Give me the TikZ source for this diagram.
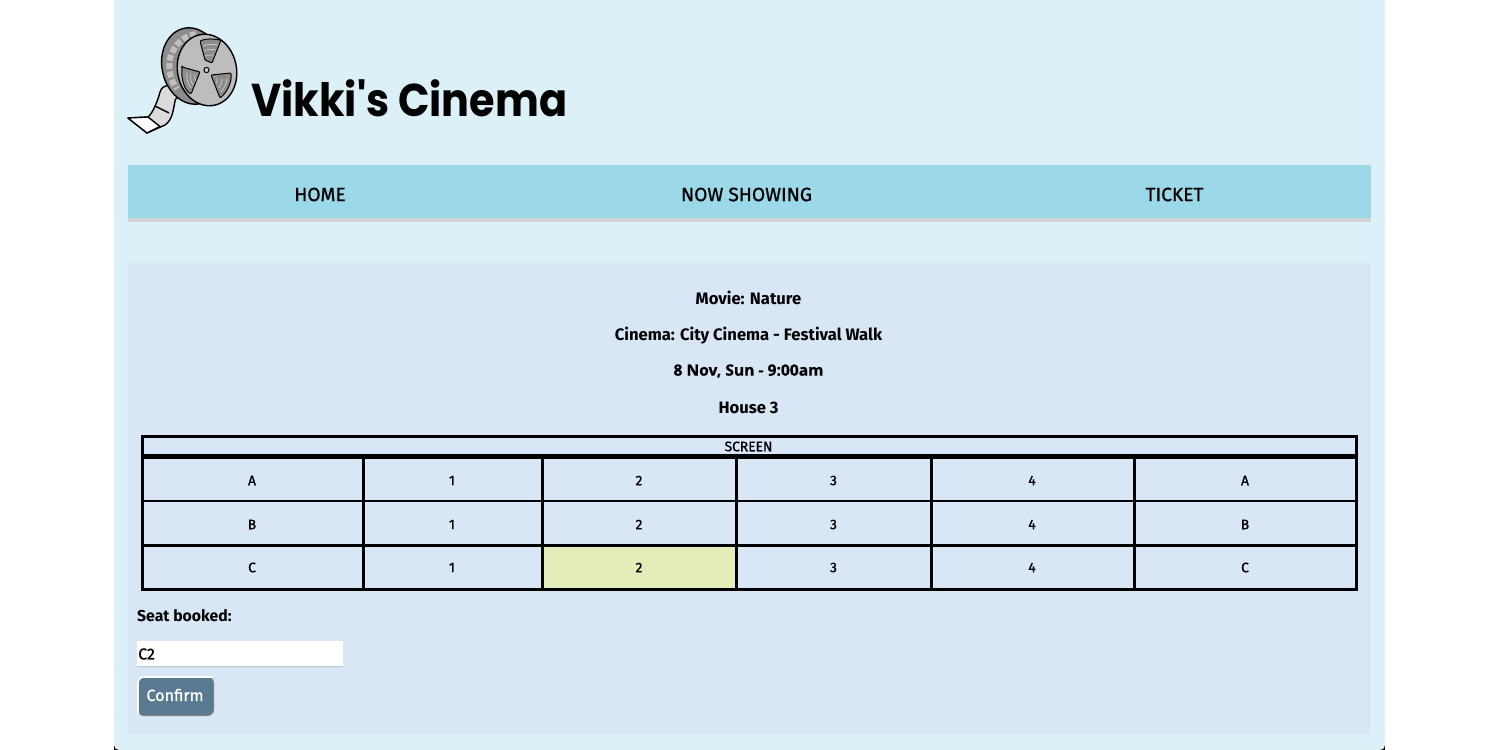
\documentclass[tikz,border=0pt]{standalone}
\usepackage{fontspec}
\setmainfont{Fira Sans}
\newfontfamily\titlefont[FakeStretch=.9]{Poppins}
\newfontfamily\datefont[FakeBold=.5]{Open Sans}
\newfontfamily\seatfont[FakeBold=1]{Fira Sans}
\definecolor{pagebg}{HTML}{DBF0F7}
\definecolor{navbg}{HTML}{9BD9E8}
\definecolor{navedge}{HTML}{CFD3D6}
\definecolor{panelbg}{HTML}{D8E6F5}
\definecolor{seatbg}{HTML}{E3EDB9}
\definecolor{btnbg}{HTML}{5A7A92}
\definecolor{reelbg}{HTML}{BDBDBD}
\definecolor{holebg}{HTML}{8C8C8C}
\tikzset{
  navlabel/.style={font=\fontsize{19.2}{24}\selectfont\seatfont},
  infolabel/.style={font=\fontsize{16.6}{20}\selectfont\bfseries},
  seatlabel/.style={font=\fontsize{13.8}{17}\selectfont\seatfont},
  gridline/.style={line width=2.6pt,black},
}
\begin{document}
\begin{tikzpicture}[x=1pt,y=-1pt]
\useasboundingbox (0,0) rectangle (1500,750);
\fill[white] (0,0) rectangle (1500,750);
\fill[black] (114,742) rectangle (1385,750);
\fill[pagebg,rounded corners=5pt] (114,-10) rectangle (1385,750);
\fill[navedge] (128,165) rectangle (1371,222);
\fill[navbg] (128,165) rectangle (1371,218);
\fill[panelbg] (128,263) rectangle (1370,734);
\begin{scope}[line width=1.4pt,line join=round]
\draw[fill=reelbg!55!white] (160,92) .. controls (163,82) and (175,85) .. (184,92) -- (182,100) .. controls (178,96) and (176,97) .. (175,101) .. controls (173,112) and (172,120) .. (165,125) -- (147,133) -- (128,118) -- (148,117) .. controls (153,113) and (158,100) .. (160,92) -- cycle;
\fill[white,draw=black] (128,118) -- (148,117) -- (160,126.5) -- (147,133) -- cycle;
\draw (155,106) -- (169,113);
\draw[fill=holebg] (192,66) ellipse [x radius=30,y radius=38.5,rotate=12];
\draw[line width=6pt,dash pattern=on 6pt off 2.5pt,white!75!black] (196,34) .. controls (183,36) and (174,45) .. (170,58) .. controls (168,68) and (170,80) .. (177,89);
\draw[fill=reelbg] (207,70) ellipse [x radius=29.5,y radius=36,rotate=12];
\draw[fill=holebg,rounded corners=1pt,line width=1pt] (200,41) .. controls (207,38) and (213,39) .. (221,40) -- (212,63) -- (205,60) -- cycle;
\draw[fill=holebg,rounded corners=1pt,line width=1pt] (182,67) -- (200,72) -- (191,94) .. controls (184,90) and (181,78) .. (182,67) -- cycle;
\draw[fill=holebg,rounded corners=1pt,line width=1pt] (211,75) -- (231,73) .. controls (232,84) and (226,93) .. (220,98) -- cycle;
\draw[line width=.7pt,white!80!black] (203,46) .. controls (208,44) and (213,44) .. (218,45);
\draw[line width=.7pt,white!80!black] (204,51) .. controls (208,49) and (212,49) .. (216,50);
\draw[line width=.7pt,white!80!black] (205,56) .. controls (208,55) and (211,55) .. (214,55);
\draw[line width=.7pt,white!80!black] (187,72) .. controls (186,78) and (188,84) .. (191,88);
\draw[line width=.7pt,white!80!black] (191,73) .. controls (190,78) and (191,82) .. (193,85);
\draw[line width=.7pt,white!80!black] (195,74) .. controls (194,77) and (195,80) .. (196,81);
\draw[line width=.7pt,white!80!black] (227,78) .. controls (227,83) and (224,88) .. (221,92);
\draw[line width=.7pt,white!80!black] (222,78) .. controls (222,82) and (221,85) .. (219,88);
\draw[line width=.7pt,white!80!black] (217,78) .. controls (217,80) and (217,82) .. (216,84);
\draw[fill=white!80!black,line width=1pt] (206.5,70) circle (2.6);
\end{scope}
\node[anchor=west,inner sep=0pt,font=\fontsize{46}{50}\selectfont\titlefont\bfseries] (sitetitle) at (251,98) {Vikki's Cinema};
\node[navlabel] (navhome) at (320,194.5) {HOME};
\node[navlabel] (navshowing) at (746.5,194.5) {NOW SHOWING};
\node[navlabel] (navticket) at (1174.5,194.5) {TICKET};
\node[infolabel] (movielabel) at (748.5,298) {Movie: Nature};
\node[infolabel] (cinemalabel) at (748.5,336) {Cinema: City Cinema - Festival Walk};
\node[font=\fontsize{15.6}{18}\selectfont\datefont\bfseries] (datelabel) at (748.5,371) {8 Nov, Sun - 9:00am};
\node[infolabel] (houselabel) at (748.5,408) {House 3};
\fill[seatbg] (543,546) rectangle (736,589);
\draw[line width=3pt] (142,436) rectangle (1356,589);
\draw[line width=4.4pt] (141,456.5) -- (1357,456.5);
\draw[gridline] (142,501) -- (1356,501);
\draw[gridline] (142,545.5) -- (1356,545.5);
\draw[gridline] (363.5,457) -- (363.5,589);
\draw[gridline] (542.5,457) -- (542.5,589);
\draw[gridline] (736.5,457) -- (736.5,589);
\draw[gridline] (931.5,457) -- (931.5,589);
\draw[gridline] (1134.5,457) -- (1134.5,589);
\node[seatlabel] (screenlabel) at (748.5,446.5) {SCREEN};
\node[seatlabel] (rowaleft) at (252,480.5) {A};
\node[seatlabel] (seata1) at (452,480.5) {1};
\node[seatlabel] (seata2) at (639,480.5) {2};
\node[seatlabel] (seata3) at (833.5,480.5) {3};
\node[seatlabel] (seata4) at (1032,480.5) {4};
\node[seatlabel] (rowaright) at (1245,480.5) {A};
\node[seatlabel] (rowbleft) at (252,524.5) {B};
\node[seatlabel] (seatb1) at (452,524.5) {1};
\node[seatlabel] (seatb2) at (639,524.5) {2};
\node[seatlabel] (seatb3) at (833.5,524.5) {3};
\node[seatlabel] (seatb4) at (1032,524.5) {4};
\node[seatlabel] (rowbright) at (1245,524.5) {B};
\node[seatlabel] (rowcleft) at (252,567.5) {C};
\node[seatlabel] (seatc1) at (452,567.5) {1};
\node[seatlabel] (seatc2) at (639,567.5) {2};
\node[seatlabel] (seatc3) at (833.5,567.5) {3};
\node[seatlabel] (seatc4) at (1032,567.5) {4};
\node[seatlabel] (rowcright) at (1245,567.5) {C};
\node[anchor=west,inner sep=0pt,font=\fontsize{15.8}{20}\selectfont\bfseries] (seatbooked) at (137,616) {Seat booked:};
\fill[white] (137,641) rectangle (343,667);
\draw[panelbg!70!gray,line width=.8pt] (137,666.5) -- (343,666.5);
\node[anchor=west,inner sep=0pt,font=\fontsize{15.8}{19}\selectfont\seatfont] (seatvalue) at (138,654) {C2};
\draw[fill=btnbg,draw=gray,line width=1pt,rounded corners=6pt] (138,677) rectangle (213.5,715.5);
\draw[white,line width=1.6pt,rounded corners=6pt] (138,714) -- (138,677) -- (212,677);
\node[white,font=\fontsize{16.2}{20}\selectfont\seatfont] (confirmlabel) at (175,695) {Confirm};
\end{tikzpicture}
\end{document}
